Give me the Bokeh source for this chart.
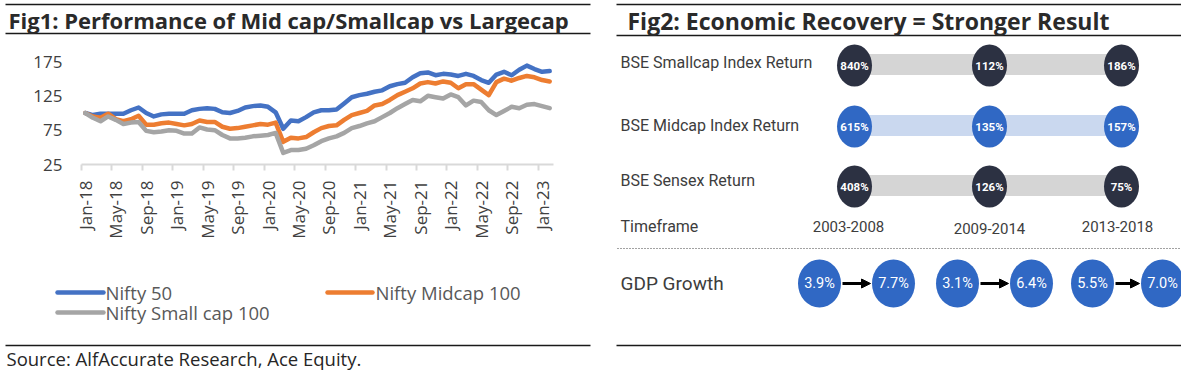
import math
from bokeh.plotting import figure
from bokeh.models import Range1d, FixedTicker, Arrow, NormalHead, ColumnDataSource
from bokeh.layouts import row, column
from bokeh.embed import file_html
from bokeh.resources import INLINE
from bokeh.core.properties import value

# ---------------- data ----------------
month_names = ["Jan", "Feb", "Mar", "Apr", "May", "Jun", "Jul", "Aug", "Sep", "Oct", "Nov", "Dec"]
months = [f"{m}-{y}" for y in range(18, 24) for m in month_names][:62]   # Jan-18 .. Feb-23

nifty50 = [100, 97, 99, 99, 99, 99, 104, 108, 100, 95, 98, 99, 99, 99, 104, 106, 107, 106, 101, 100,
           103, 108, 110, 111, 109, 101, 77, 89, 88, 94, 101, 104, 104, 105, 114, 123, 126, 128, 131, 133,
           139, 142, 144, 152, 158, 159, 155, 157, 156, 154, 157, 154, 148, 144, 156, 160, 155, 163, 169, 164,
           160, 161]
midcap100 = [100, 95, 93, 99, 91, 88, 91, 96, 83, 83, 85, 86, 84, 82, 84, 89, 87, 87, 80, 77,
             78, 80, 82, 84, 83, 86, 58, 64, 63, 65, 72, 78, 81, 82, 90, 97, 100, 103, 111, 113,
             119, 126, 131, 136, 143, 145, 143, 146, 144, 136, 142, 142, 134, 126, 145, 150, 147, 151, 154, 152,
             148, 146]
smallcap100 = [100, 93, 88, 95, 90, 84, 86, 87, 74, 72, 73, 75, 74, 70, 70, 79, 76, 75, 68, 63,
               63, 64, 66, 67, 68, 71, 42, 46, 46, 48, 53, 59, 63, 66, 71, 78, 81, 85, 88, 94,
               100, 107, 113, 119, 117, 125, 123, 121, 127, 123, 111, 118, 116, 104, 97, 103, 109, 107, 112, 113,
               110, 107]
y_ticks = [25, 75, 125, 175]
x_tick_every = 4

row_labels = ["BSE Smallcap Index Return", "BSE Midcap Index Return", "BSE Sensex Return"]
timeframes = ["2003-2008", "2009-2014", "2013-2018"]
smallcap_ret = [840, 112, 186]
midcap_ret = [615, 135, 157]
sensex_ret = [408, 126, 75]
gdp_before = [3.9, 3.1, 5.5]
gdp_after = [7.7, 6.4, 7.0]

FONT = "Open Sans"
FONT2 = "Roboto"
BLUE, ORANGE, GRAY = "#4472C4", "#ED7D31", "#A5A5A5"


def blank(w, h, xr, yr):
    p = figure(width=w, height=h, x_range=Range1d(*xr), y_range=Range1d(*yr),
               output_backend="svg", toolbar_location=None, min_border=0, frame_align=False)
    p.axis.visible = False
    p.grid.visible = False
    p.outline_line_color = None
    return p


# ---------------- left: title ----------------
lt = blank(600, 45, (0, 600), (45, 0))
lt.segment(x0=[5, 5], y0=[4, 33], x1=[590, 590], y1=[4, 33], line_color="#1a1a1a", line_width=1.5)
lt.text(x=[8], y=[19], text=["Fig1: Performance of Mid cap/Smallcap vs Largecap"],
        text_font=value(FONT), text_font_size="22px", text_font_style="bold",
        text_baseline="middle", text_color="#2a2a2a")

# ---------------- left: line chart ----------------
idx = list(range(len(months)))
ch = figure(width=600, height=205, x_range=Range1d(-0.5, len(months) - 0.5), y_range=Range1d(25, 175),
            output_backend="svg", toolbar_location=None, frame_align=False,
            min_border_left=81, min_border_right=47, min_border_top=16, min_border_bottom=86)
ch.grid.visible = False
ch.outline_line_color = None
for ys, col in [(nifty50, BLUE), (midcap100, ORANGE), (smallcap100, GRAY)]:
    ch.line(idx, ys, line_color=col, line_width=4.5, line_join="round", line_cap="round")

ch.yaxis.ticker = FixedTicker(ticks=y_ticks)
ch.yaxis.axis_line_color = None
ch.yaxis.major_tick_line_color = None
ch.yaxis.minor_tick_line_color = None
ch.yaxis.major_tick_out = 0
ch.yaxis.major_label_standoff = 19
ch.yaxis.major_label_text_font = FONT
ch.yaxis.major_label_text_font_size = "17px"
ch.yaxis.major_label_text_color = "#404040"

label_pos = idx[::x_tick_every]
ch.xaxis.ticker = FixedTicker(ticks=label_pos, minor_ticks=[i - 0.5 for i in label_pos])
ch.xaxis.major_label_overrides = {i: months[i] for i in label_pos}
ch.xaxis.major_label_orientation = math.pi / 2
ch.xaxis.axis_line_color = "#d9d9d9"
ch.xaxis.axis_line_width = 2
ch.xaxis.major_tick_line_color = None
ch.xaxis.major_tick_out = 0
ch.xaxis.major_tick_in = 0
ch.xaxis.minor_tick_line_color = "#d9d9d9"
ch.xaxis.minor_tick_line_width = 2
ch.xaxis.minor_tick_out = 6
ch.xaxis.minor_tick_in = 0
ch.xaxis.major_label_standoff = 10
ch.xaxis.major_label_text_font = FONT
ch.xaxis.major_label_text_font_size = "17px"
ch.xaxis.major_label_text_color = "#404040"

# ---------------- left: legend + source ----------------
lb = blank(600, 126, (0, 600), (376, 250))
lb.segment(x0=[57, 327, 57], y0=[292, 292, 312], x1=[103, 372, 103], y1=[292, 292, 312],
           line_color=[BLUE, ORANGE, GRAY], line_width=4.5, line_cap="round")
lb.text(x=[105, 375, 105], y=[292, 292, 312], text=["Nifty 50", "Nifty Midcap 100", "Nifty Small cap 100"],
        text_font=value(FONT), text_font_size="18.5px", text_baseline="middle", text_color="#595959")
lb.segment(x0=[5], y0=[345], x1=[590], y1=[345], line_color="#1a1a1a", line_width=1.5)
lb.text(x=[6], y=[358], text=["Source: AlfAccurate Research, Ace Equity."],
        text_font=value(FONT), text_font_size="18.5px", text_baseline="middle", text_color="#262626")

# ---------------- right panel ----------------
r = blank(581, 376, (600, 1181), (376, 0))
r.segment(x0=[616, 616, 616], y0=[4, 35, 345], x1=[1181, 1181, 1181], y1=[4, 35, 345],
          line_color="#1a1a1a", line_width=1.5)
r.text(x=[627], y=[20], text=["Fig2: Economic Recovery = Stronger Result"],
       text_font=value(FONT), text_font_size="23px", text_font_style="bold",
       text_baseline="middle", text_color="#2a2a2a")

col_x = [854, 989, 1121]
row_y = [65, 126, 186]
label_y = [62, 125, 180]
DARK, MBLUE = "#2c3142", "#3068c4"
rows = [(smallcap_ret, DARK, "#d5d5d5"), (midcap_ret, MBLUE, "#cad8ef"), (sensex_ret, DARK, "#d5d5d5")]
for (vals, ccol, bcol), yy in zip(rows, row_y):
    r.rect(x=[(col_x[0] + col_x[-1]) / 2], y=[yy - 1], width=col_x[-1] - col_x[0], height=21,
           fill_color=bcol, line_color=None)
    r.ellipse(x=col_x, y=[yy] * 3, width=35, height=42, fill_color=ccol, line_color=None)
    r.text(x=col_x, y=[yy] * 3, text=[f"{v}%" for v in vals], text_font=value(FONT2),
           text_font_size="11.5px", text_font_style="bold", text_align="center",
           text_baseline="middle", text_color="white")

r.text(x=[620] * 4, y=label_y + [226], text=row_labels + ["Timeframe"], text_font=value(FONT2),
       text_font_size="16px", text_baseline="middle", text_color="#3d3d3d")
r.text(x=[848, 989, 1117], y=[226, 228, 226], text=timeframes, text_font=value(FONT2),
       text_font_size="15px", text_align="center", text_baseline="middle", text_color="#3d3d3d")

r.segment(x0=[617], y0=[248], x1=[1181], y1=[248], line_color="#444444", line_width=1.2, line_dash="1 2")

r.text(x=[620], y=[283], text=["GDP Growth"], text_font=value(FONT2),
       text_font_size="19px", text_baseline="middle", text_color="#3d3d3d")
gx0 = [819, 957, 1092]
gx1 = [893, 1031, 1162]
r.ellipse(x=gx0 + gx1, y=[283] * 6, width=43, height=48, fill_color=MBLUE, line_color=None)
r.text(x=gx0 + gx1, y=[283] * 6, text=[f"{v:.1f}%" for v in gdp_before + gdp_after],
       text_font=value(FONT2), text_font_size="14.5px", text_align="center",
       text_baseline="middle", text_color="white")
arr = ColumnDataSource(dict(x0=[x + 23 for x in gx0], x1=[x - 23 for x in gx1], y=[283] * 3))
r.add_layout(Arrow(source=arr, x_start="x0", y_start="y", x_end="x1", y_end="y", line_width=3,
                   line_color="black",
                   end=NormalHead(size=9, fill_color="black", line_color="black")))

layout = row(column(lt, ch, lb), r)
open("out.html", "w").write(file_html(layout, INLINE))
